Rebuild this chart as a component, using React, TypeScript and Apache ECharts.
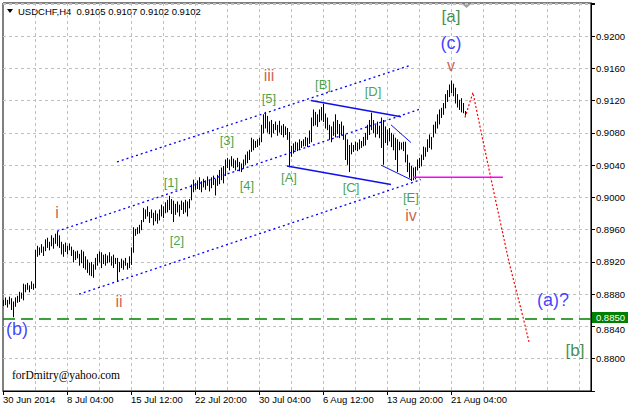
import React, { useEffect, useRef } from "react";
import * as echarts from "echarts";

// ---------- data ----------
const tickLabels = [
  "30 Jun 2014", "8 Jul 04:00", "15 Jul 12:00", "22 Jul 20:00",
  "30 Jul 04:00", "6 Aug 12:00", "13 Aug 20:00", "21 Aug 04:00",
];
const barsPerLabel = 32;
const slotCount = 295;

const highs = [
  0.8873, 0.8876, 0.8873, 0.8877, 0.8875, 0.8871, 0.8876, 0.8878, 0.8883, 0.8882,
  0.8893, 0.8892, 0.8894, 0.8891, 0.8896, 0.8893, 0.8935, 0.8940, 0.8938, 0.8942,
  0.8939, 0.8948, 0.8950, 0.8945, 0.8953, 0.8950, 0.8955, 0.8958, 0.8953, 0.8945,
  0.8942, 0.8944, 0.8940, 0.8943, 0.8939, 0.8935, 0.8933, 0.8934, 0.8930, 0.8935,
  0.8933, 0.8927, 0.8923, 0.8919, 0.8920, 0.8917, 0.8925, 0.8930, 0.8933, 0.8932,
  0.8929, 0.8930, 0.8928, 0.8932, 0.8927, 0.8929, 0.8925, 0.8925, 0.8920, 0.8924,
  0.8922, 0.8925, 0.8919, 0.8927, 0.8938, 0.8963, 0.8961, 0.8963, 0.8966, 0.8972,
  0.8987, 0.8985, 0.8989, 0.8982, 0.8985, 0.8981, 0.8984, 0.8980, 0.8985, 0.8991,
  0.8989, 0.8994, 0.8997, 0.9002, 0.8998, 0.8996, 0.8992, 0.8995, 0.8991, 0.8996,
  0.8994, 0.8997, 0.8995, 0.8998, 0.9016, 0.9022, 0.9018, 0.9021, 0.9025, 0.9020,
  0.9023, 0.9021, 0.9026, 0.9022, 0.9025, 0.9027, 0.9023, 0.9028, 0.9034, 0.9037,
  0.9039, 0.9047, 0.9049, 0.9047, 0.9051, 0.9048, 0.9046, 0.9049, 0.9044, 0.9042,
  0.9047, 0.9053, 0.9057, 0.9059, 0.9074, 0.9072, 0.9070, 0.9072, 0.9074, 0.9090,
  0.9103, 0.9106, 0.9101, 0.9094, 0.9096, 0.9091, 0.9094, 0.9090, 0.9095, 0.9089,
  0.9091, 0.9088, 0.9086, 0.9081, 0.9064, 0.9067, 0.9069, 0.9068, 0.9072, 0.9070,
  0.9072, 0.9075, 0.9074, 0.9083, 0.9099, 0.9109, 0.9106, 0.9103, 0.9109, 0.9112,
  0.9116, 0.9104, 0.9099, 0.9090, 0.9088, 0.9094, 0.9103, 0.9096, 0.9091, 0.9094,
  0.9089, 0.9078, 0.9072, 0.9065, 0.9068, 0.9065, 0.9069, 0.9068, 0.9072, 0.9070,
  0.9075, 0.9080, 0.9090, 0.9096, 0.9105, 0.9096, 0.9090, 0.9094, 0.9089, 0.9099,
  0.9096, 0.9088, 0.9084, 0.9086, 0.9080, 0.9078, 0.9074, 0.9072, 0.9069, 0.9068,
  0.9069, 0.9069, 0.9053, 0.9043, 0.9039, 0.9037, 0.9038, 0.9047, 0.9049, 0.9053,
  0.9063, 0.9062, 0.9072, 0.9078, 0.9075, 0.9090, 0.9094, 0.9103, 0.9109, 0.9111,
  0.9117, 0.9128, 0.9133, 0.9140, 0.9145, 0.9141, 0.9136, 0.9128, 0.9121, 0.9123,
  0.9117, 0.9107,
];
const lows = [
  0.8866, 0.8867, 0.8864, 0.8868, 0.8861, 0.8852, 0.8865, 0.8870, 0.8871, 0.8875,
  0.8873, 0.8883, 0.8886, 0.8883, 0.8887, 0.8886, 0.8888, 0.8927, 0.8929, 0.8932,
  0.8928, 0.8934, 0.8938, 0.8935, 0.8940, 0.8937, 0.8943, 0.8940, 0.8938, 0.8930,
  0.8927, 0.8933, 0.8930, 0.8935, 0.8928, 0.8920, 0.8923, 0.8925, 0.8916, 0.8919,
  0.8913, 0.8911, 0.8907, 0.8904, 0.8903, 0.8901, 0.8911, 0.8916, 0.8920, 0.8913,
  0.8918, 0.8916, 0.8919, 0.8920, 0.8916, 0.8913, 0.8918, 0.8896, 0.8908, 0.8913,
  0.8911, 0.8916, 0.8911, 0.8913, 0.8917, 0.8932, 0.8953, 0.8955, 0.8956, 0.8960,
  0.8970, 0.8974, 0.8977, 0.8969, 0.8975, 0.8966, 0.8971, 0.8968, 0.8972, 0.8977,
  0.8975, 0.8981, 0.8982, 0.8985, 0.8980, 0.8970, 0.8979, 0.8982, 0.8977, 0.8985,
  0.8980, 0.8982, 0.8977, 0.8987, 0.8997, 0.9007, 0.9010, 0.9011, 0.9010, 0.9007,
  0.9013, 0.9010, 0.9015, 0.9008, 0.9012, 0.9016, 0.9003, 0.9015, 0.9017, 0.9022,
  0.9018, 0.9027, 0.9037, 0.9034, 0.9039, 0.9037, 0.9034, 0.9038, 0.9033, 0.9032,
  0.9036, 0.9041, 0.9043, 0.9047, 0.9057, 0.9059, 0.9062, 0.9063, 0.9065, 0.9069,
  0.9080, 0.9086, 0.9081, 0.9079, 0.9075, 0.9080, 0.9084, 0.9077, 0.9081, 0.9078,
  0.9075, 0.9078, 0.9072, 0.9038, 0.9051, 0.9055, 0.9059, 0.9058, 0.9060, 0.9062,
  0.9064, 0.9064, 0.9063, 0.9067, 0.9069, 0.9089, 0.9090, 0.9088, 0.9094, 0.9096,
  0.9094, 0.9086, 0.9084, 0.9072, 0.9069, 0.9077, 0.9075, 0.9079, 0.9074, 0.9078,
  0.9072, 0.9047, 0.9041, 0.9032, 0.9054, 0.9057, 0.9059, 0.9058, 0.9060, 0.9062,
  0.9064, 0.9065, 0.9072, 0.9078, 0.9084, 0.9080, 0.9075, 0.9079, 0.9074, 0.9062,
  0.9041, 0.9068, 0.9065, 0.9070, 0.9063, 0.9059, 0.9047, 0.9032, 0.9059, 0.9060,
  0.9058, 0.9044, 0.9032, 0.9025, 0.9021, 0.9022, 0.9023, 0.9034, 0.9037, 0.9039,
  0.9047, 0.9051, 0.9057, 0.9062, 0.9060, 0.9075, 0.9080, 0.9086, 0.9091, 0.9099,
  0.9103, 0.9111, 0.9119, 0.9125, 0.9130, 0.9126, 0.9117, 0.9112, 0.9109, 0.9106,
  0.9105, 0.9102,
];

const lastQuote = [0.9105, 0.9107, 0.9102, 0.9102];
const priceMin = 0.876;
const priceMax = 0.9241;
const priceStep = 0.004;
const supportLevel = 0.885;

// annotation lines: [barIndex, price]
const channelUpper = [[57, 0.9044], [204, 0.9164]];
const channelMiddle = [[27, 0.8958], [208, 0.9109]];
const channelLower = [[38, 0.888], [209, 0.9022]];
const lineBD = [[154, 0.912], [199, 0.91]];
const lineAC = [[142, 0.9039], [194, 0.9016]];
const lineDE = [[194, 0.909], [204, 0.9068]];
const lineCE = [[189, 0.904], [204, 0.9022]];
const levelE = [[205, 0.9025], [250, 0.9025]];
const projection = [[231, 0.9099], [235, 0.913], [239, 0.9082], [246, 0.9], [253, 0.892], [260, 0.8852], [263, 0.8821]];

// wave labels: [text, barIndex, price, degree]
const waveLabels: [string, number, number, string][] = [
  ["i", 27, 0.8981, "minor"],
  ["ii", 58, 0.8871, "minor"],
  ["iii", 133, 0.9151, "minor"],
  ["iv", 204, 0.8977, "minor"],
  ["v", 224, 0.9163, "minor"],
  ["[1]", 84, 0.9018, "sub"],
  ["[2]", 87, 0.8947, "sub"],
  ["[3]", 112, 0.907, "sub"],
  ["[4]", 122, 0.9015, "sub"],
  ["[5]", 133, 0.9123, "sub"],
  ["[A]", 143, 0.9025, "sub"],
  ["[B]", 160, 0.914, "sub"],
  ["[C]", 174, 0.9012, "sub"],
  ["[D]", 185, 0.9131, "sub"],
  ["[E]", 204, 0.9, "sub"],
  ["[a]", 224, 0.9224, "major"],
  ["[b]", 286, 0.881, "major"],
  ["(c)", 224, 0.9192, "inter"],
  ["(b)", 7, 0.8837, "inter"],
  ["(a)?", 275, 0.8873, "inter"],
];

const labelStyles: Record<string, { color: string; fontSize: number }> = {
  minor: { color: "#bf3a22", fontSize: 16 },
  sub: { color: "#178a17", fontSize: 13 },
  major: { color: "#157015", fontSize: 17 },
  inter: { color: "#1010ff", fontSize: 18 },
};

const FONT = '"Liberation Sans", Arial, sans-serif';

export default function App() {
  const ref = useRef<HTMLDivElement>(null);

  useEffect(() => {
    if (!ref.current) return;
    const chart = echarts.init(ref.current, undefined, { renderer: "svg" });

    const categories = Array.from({ length: slotCount }, (_, i) => String(i));
    const barData = highs.map((h, i) => [i, lows[i], h]);

    const annot = (data: number[][], color: string, type: any, width: number, z = 4) => ({
      type: "line",
      data,
      symbol: "none",
      showSymbol: false,
      silent: true,
      z,
      lineStyle: { color, type, width },
    });

    const option: any = {
      animation: false,
      backgroundColor: "#ffffff",
      grid: {
        left: 3, top: 3, right: 37, bottom: 18,
        show: true, borderColor: "#000", borderWidth: 1, backgroundColor: "transparent",
      },
      xAxis: {
        type: "category",
        data: categories,
        boundaryGap: false,
        axisLine: { show: true, lineStyle: { color: "#000", width: 1 } },
        axisTick: {
          show: true,
          length: 4,
          lineStyle: { color: "#000" },
          interval: (idx: number) => idx % barsPerLabel === 0 && idx / barsPerLabel < tickLabels.length,
        },
        axisLabel: {
          show: true,
          align: "left",
          margin: 3,
          color: "#000",
          fontSize: 9.5,
          fontFamily: FONT,
          interval: (idx: number) => idx % barsPerLabel === 0 && idx / barsPerLabel < tickLabels.length,
          formatter: (_v: string, idx: number) =>
            idx % barsPerLabel === 0 ? tickLabels[idx / barsPerLabel] ?? "" : "",
        },
        splitLine: {
          show: true,
          interval: (idx: number) => idx % 16 === 0 && idx > 0 && idx < slotCount - 1,
          lineStyle: { color: "#c0c0c0", type: [3, 3], width: 1 },
        },
      },
      yAxis: {
        type: "value",
        position: "right",
        min: priceMin,
        max: priceMax,
        interval: priceStep,
        axisLine: { show: true, lineStyle: { color: "#000", width: 1 } },
        axisTick: { show: true, length: 4, lineStyle: { color: "#000" } },
        axisLabel: {
          margin: 5,
          color: "#000",
          fontSize: 9.5,
          fontFamily: FONT,
          formatter: (v: number) => {
            if (!(v > 0.8799 && v < 0.9201)) return "";
            const txt = v.toFixed(4);
            // labels right under the price box are nudged down, as in the terminal
            return v < supportLevel && supportLevel - v < 0.0015 ? `{low|${txt}}` : txt;
          },
          rich: {
            low: { padding: [7, 0, 0, 0], fontSize: 9.5, fontFamily: FONT, color: "#000" },
          },
        },
        splitLine: { show: true, lineStyle: { color: "#c0c0c0", type: [3, 3], width: 1 } },
      },
      series: [
        {
          type: "custom",
          data: barData,
          z: 3,
          silent: true,
          encode: { x: 0, y: [1, 2] },
          renderItem: (_p: any, api: any) => {
            const idx = api.value(0);
            const hi = api.coord([idx, api.value(2)]);
            const lo = api.coord([idx, api.value(1)]);
            const px = Math.round(hi[0]) + 0.5;
            return {
              type: "line",
              shape: { x1: px, y1: hi[1], x2: px, y2: lo[1] + 0.5 },
              style: { stroke: "#000", lineWidth: 1 },
            };
          },
        },
        annot(channelUpper, "#0000ff", [2, 3], 1.3),
        annot(channelMiddle, "#0000ff", [2, 3], 1.3),
        annot(channelLower, "#0000ff", [2, 3], 1.3),
        annot(lineBD, "#1010ee", "solid", 1.5),
        annot(lineAC, "#1010ee", "solid", 1.5),
        annot(lineDE, "#1010ee", "solid", 1),
        annot(lineCE, "#1010ee", "solid", 1),
        annot(projection, "#ff0000", [2, 2], 1.2),
        {
          ...annot(levelE, "#ff00ff", "solid", 1.5),
          markLine: {
            silent: true,
            symbol: "none",
            precision: 4,
            data: [{ yAxis: supportLevel }],
            lineStyle: { color: "#008000", type: [12, 6], width: 1.5 },
            label: {
              show: true,
              position: "end",
              distance: 1,
              offset: [0, -1],
              formatter: supportLevel.toFixed(4),
              color: "#fff",
              backgroundColor: "#008000",
              padding: [1, 8, 0, 4],
              lineHeight: 10,
              fontSize: 9.5,
              fontFamily: FONT,
            },
          },
        },
        {
          type: "scatter",
          symbolSize: 0,
          silent: true,
          z: 6,
          data: waveLabels.map(([text, x, y, deg]) => ({
            value: [x, y],
            name: text,
            label: {
              show: true,
              position: "inside",
              formatter: text,
              color: labelStyles[deg].color,
              fontSize: labelStyles[deg].fontSize,
              fontFamily: FONT,
            },
          })),
        },
      ],
      graphic: [
        { type: "polygon", shape: { points: [[7, 9], [13, 9], [10, 13]] }, style: { fill: "#000" } },
        {
          type: "text",
          left: 18,
          top: 6,
          style: {
            text: "USDCHF,H4\u00a0\u00a0" + lastQuote.map((v) => v.toFixed(4)).join(" "),
            font: '9.5px "Liberation Sans", Arial, sans-serif',
            fill: "#000",
          },
        },
        { type: "polygon", shape: { points: [[462, 4], [471, 4], [466.5, 8]] }, style: { fill: "#a0a0a0" } },
        {
          type: "text",
          left: 12,
          top: 369,
          style: {
            text: "forDmitry@yahoo.com",
            font: '11.5px "Liberation Serif", "Times New Roman", serif',
            fill: "#000",
          },
        },
      ],
    };

    chart.setOption(option);
    return () => chart.dispose();
  }, []);

  return (
    <div
      ref={ref}
      style={{ position: "absolute", left: 0, top: 0, width: 628, height: 409, background: "#fff" }}
    />
  );
}
